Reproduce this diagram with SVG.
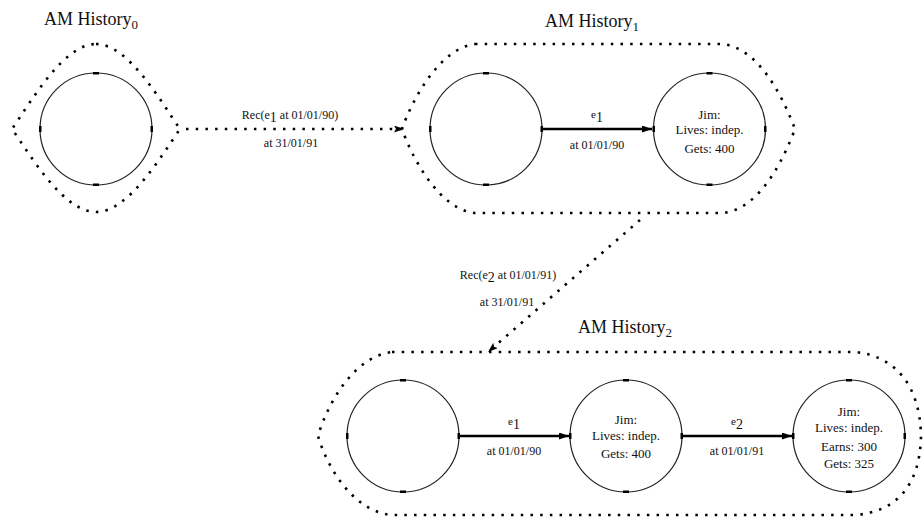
<svg xmlns="http://www.w3.org/2000/svg" width="923" height="521" viewBox="0 0 923 521">
  <style>
    text { font-family: "Liberation Serif", "Times New Roman", serif; fill: #111; }
    .title { font-size: 18px; text-anchor: middle; }
    .sub { font-size: 13px; }
    .lbl { font-size: 13px; text-anchor: middle; }
    .elbl { font-size: 12px; text-anchor: middle; }
    .state { fill: #fff; stroke: #222; stroke-width: 1.2; }
    .port { fill: #000; }
    .hull { fill: none; stroke: #000; stroke-width: 2.6; stroke-dasharray: 2.5 7.2; }
    .edge { fill: none; stroke: #000; stroke-width: 2.6; }
    .rec { fill: none; stroke: #000; stroke-width: 2.6; stroke-dasharray: 2.5 7.2; }
  </style>
  <defs>
    <marker id="arr" markerWidth="10" markerHeight="7" refX="10" refY="3.5" orient="auto" markerUnits="userSpaceOnUse">
      <path d="M0 0 L10 3.5 L0 7 Z" fill="#000"/>
    </marker>
    <marker id="arrSmall" markerWidth="10" markerHeight="7" refX="10" refY="3.5" orient="auto" markerUnits="userSpaceOnUse">
      <path d="M0 0 L10 3.5 L0 7 L2 3.5 Z" fill="#000"/>
    </marker>
  </defs>

  <!-- History 0 -->
  <g id="history0">
    <text class="title" x="91" y="25">AM History<tspan class="sub" dy="4">0</tspan></text>
    <path class="hull" d="M96 44 C128 44 160 100 180 129 C160 158 128 212 96 212 C64 212 32 158 12 129 C32 100 64 44 96 44 Z"/>
    <g id="h0-s0">
      <circle class="state" cx="96" cy="129" r="56"/>
      <rect class="port" x="93" y="72" width="6" height="2.5"/>
      <rect class="port" x="93" y="183.5" width="6" height="2.5"/>
      <rect class="port" x="39" y="126" width="2.5" height="6"/>
      <rect class="port" x="150.5" y="126" width="2.5" height="6"/>
    </g>
  </g>

  <!-- History 1 -->
  <g id="history1">
    <text class="title" x="592" y="27">AM History<tspan class="sub" dy="4">1</tspan></text>
    <path class="hull" d="M475 44 L722 44 C760 48 784 100 795 129 C784 158 760 210 722 213 L475 213 C440 210 412 158 402 129 C412 100 440 48 475 44 Z"/>
    <g id="h1-s0">
      <circle class="state" cx="486" cy="129" r="56"/>
      <rect class="port" x="483" y="72" width="6" height="2.5"/>
      <rect class="port" x="483" y="183.5" width="6" height="2.5"/>
      <rect class="port" x="429" y="126" width="2.5" height="6"/>
      <rect class="port" x="540.5" y="126" width="2.5" height="6"/>
    </g>
    <g id="h1-s1">
      <circle class="state" cx="709.5" cy="129" r="56"/>
      <rect class="port" x="706.5" y="72" width="6" height="2.5"/>
      <rect class="port" x="706.5" y="183.5" width="6" height="2.5"/>
      <rect class="port" x="652.5" y="126" width="2.5" height="6"/>
      <rect class="port" x="764" y="126" width="2.5" height="6"/>
      <text class="lbl" x="709.5" y="119">Jim:</text>
      <text class="lbl" x="709.5" y="134">Lives: indep.</text>
      <text class="lbl" x="709.5" y="153">Gets: 400</text>
    </g>
  </g>

  <!-- History 2 -->
  <g id="history2">
    <text class="title" x="625" y="333">AM History<tspan class="sub" dy="4">2</tspan></text>
    <path class="hull" d="M392 352 L855 352 C895 356 920 385 921 436 C920 487 895 512 855 515 L392 515 C355 512 328 470 318 436 C328 402 355 356 392 352 Z"/>
    <g id="h2-s0">
      <circle class="state" cx="403" cy="436" r="56"/>
      <rect class="port" x="400" y="379" width="6" height="2.5"/>
      <rect class="port" x="400" y="490.5" width="6" height="2.5"/>
      <rect class="port" x="346" y="433" width="2.5" height="6"/>
      <rect class="port" x="457.5" y="433" width="2.5" height="6"/>
    </g>
    <g id="h2-s1">
      <circle class="state" cx="626" cy="436" r="56"/>
      <rect class="port" x="623" y="379" width="6" height="2.5"/>
      <rect class="port" x="623" y="490.5" width="6" height="2.5"/>
      <rect class="port" x="569" y="433" width="2.5" height="6"/>
      <rect class="port" x="680.5" y="433" width="2.5" height="6"/>
      <text class="lbl" x="626" y="424">Jim:</text>
      <text class="lbl" x="626" y="440">Lives: indep.</text>
      <text class="lbl" x="626" y="458">Gets: 400</text>
    </g>
    <g id="h2-s2">
      <circle class="state" cx="849" cy="436" r="56"/>
      <rect class="port" x="846" y="379" width="6" height="2.5"/>
      <rect class="port" x="846" y="490.5" width="6" height="2.5"/>
      <rect class="port" x="792" y="433" width="2.5" height="6"/>
      <rect class="port" x="903.5" y="433" width="2.5" height="6"/>
      <text class="lbl" x="849" y="416">Jim:</text>
      <text class="lbl" x="849" y="432">Lives: indep.</text>
      <text class="lbl" x="849" y="451">Earns: 300</text>
      <text class="lbl" x="849" y="468">Gets: 325</text>
    </g>
  </g>

  <!-- Connectors -->
  <g id="connectors">
    <!-- recording transitions between histories -->
    <path class="rec" d="M186 129 L404 129" marker-end="url(#arrSmall)"/>
    <text class="elbl" x="290" y="119">Rec(e<tspan font-size="14" dy="3">1</tspan><tspan dy="-3"> at 01/01/90)</tspan></text>
    <text class="elbl" x="291" y="147">at 31/01/91</text>

    <path class="rec" d="M640 220 L488 352" marker-end="url(#arrSmall)"/>
    <text class="elbl" x="508" y="279">Rec(e<tspan font-size="14" dy="3">2</tspan><tspan dy="-3"> at 01/01/91)</tspan></text>
    <text class="elbl" x="507" y="306">at 31/01/91</text>

    <!-- events inside histories -->
    <path class="edge" d="M543 129 L652 129" marker-end="url(#arr)"/>
    <text class="elbl" x="597" y="121"><tspan font-size="11" dy="-3">e</tspan><tspan font-size="14" dy="4">1</tspan></text>
    <text class="elbl" x="597" y="149">at 01/01/90</text>

    <path class="edge" d="M460 436 L569 436" marker-end="url(#arr)"/>
    <text class="elbl" x="514" y="428"><tspan font-size="11" dy="-3">e</tspan><tspan font-size="14" dy="4">1</tspan></text>
    <text class="elbl" x="514" y="455">at 01/01/90</text>

    <path class="edge" d="M683 436 L792 436" marker-end="url(#arr)"/>
    <text class="elbl" x="737" y="428"><tspan font-size="11" dy="-3">e</tspan><tspan font-size="14" dy="4">2</tspan></text>
    <text class="elbl" x="737" y="455">at 01/01/91</text>
  </g>
</svg>
